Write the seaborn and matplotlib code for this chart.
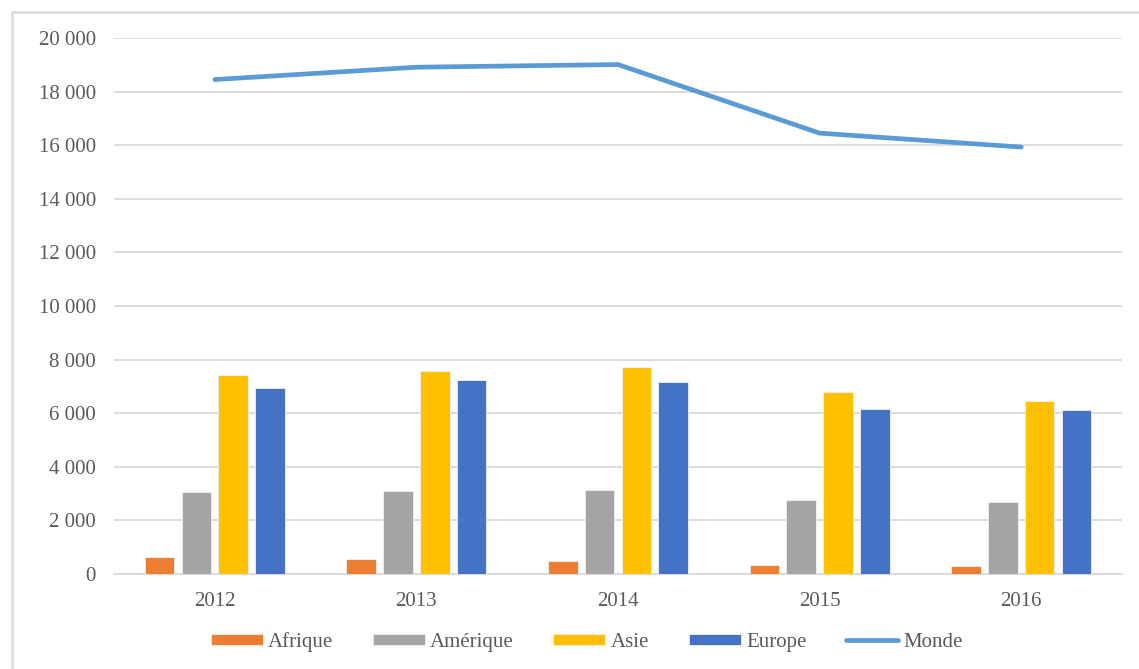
import numpy as np
import pandas as pd
import matplotlib.pyplot as plt
from matplotlib.patches import Rectangle
from matplotlib.ticker import FuncFormatter, MultipleLocator
import seaborn as sns

# values
years = ['2012', '2013', '2014', '2015', '2016']
afrique = [620, 570, 485, 335, 300]
amerique = [3060, 3090, 3140, 2770, 2695]
asie = [7430, 7590, 7715, 6780, 6450]
europe = [6930, 7230, 7180, 6160, 6125]
monde = [18450, 18910, 19010, 16450, 15930]

regions = ['Afrique', 'Amérique', 'Asie', 'Europe']
colors = ['#ed7d31', '#a5a5a5', '#ffc000', '#4472c4']
line_color = '#5b9bd5'
text_color = '#595959'
grid_color = '#d9d9d9'

df = pd.DataFrame({'Year': years, 'Afrique': afrique, 'Amérique': amerique,
                   'Asie': asie, 'Europe': europe})
df_long = df.melt(id_vars='Year', var_name='Region', value_name='Value')

sns.set_theme(style='white')
plt.rcParams['font.family'] = ['Liberation Serif', 'DejaVu Serif']

W, H = 1139, 669
fig = plt.figure(figsize=(W / 100, H / 100), dpi=100)
ax = fig.add_axes([114 / W, 1 - 574 / H, (1122 - 114) / W, (574 - 38) / H])

sns.barplot(data=df_long, x='Year', y='Value', hue='Region', hue_order=regions,
            palette=colors, saturation=1, width=0.73, gap=0.2,
            edgecolor='#f2f2f2', linewidth=0.6, ax=ax, zorder=3)
sns.lineplot(x=np.arange(len(years)), y=monde, color=line_color, linewidth=3.4,
             label='Monde', ax=ax, zorder=4, solid_capstyle='round')

ax.set_xlim(-0.5, len(years) - 0.5)
ax.set_ylim(0, 20000)
ax.yaxis.set_major_locator(MultipleLocator(2000))
ax.yaxis.set_major_formatter(FuncFormatter(lambda v, p: f"{v:,.0f}".replace(',', ' ')))
ax.grid(axis='y', color=grid_color, linewidth=1.3, zorder=0)
ax.grid(axis='x', visible=False)
for s in ['top', 'right', 'left']:
    ax.spines[s].set_visible(False)
ax.spines['bottom'].set_color(grid_color)
ax.spines['bottom'].set_linewidth(1.3)
ax.tick_params(axis='both', length=0, labelsize=15, labelcolor=text_color)
ax.tick_params(axis='y', pad=13)
ax.tick_params(axis='x', pad=13)
ax.set_xlabel('')
ax.set_ylabel('')

handles, labels = ax.get_legend_handles_labels()
ax.get_legend().remove()
fig.legend(handles, labels, loc='center', bbox_to_anchor=(0.515, 1 - 642 / H),
           ncol=5, frameon=False, fontsize=15, labelcolor=text_color,
           handlelength=2.5, handleheight=0.5, handletextpad=0.25, columnspacing=1.9)

# outer frame (cut off at right and bottom in the reference)
fig.add_artist(Rectangle((12 / W, -0.1), 1.2, 1 - 12 / H + 0.1, fill=False,
                         edgecolor=grid_color, linewidth=1.8, transform=fig.transFigure))

fig.savefig('out.png', dpi=100)
